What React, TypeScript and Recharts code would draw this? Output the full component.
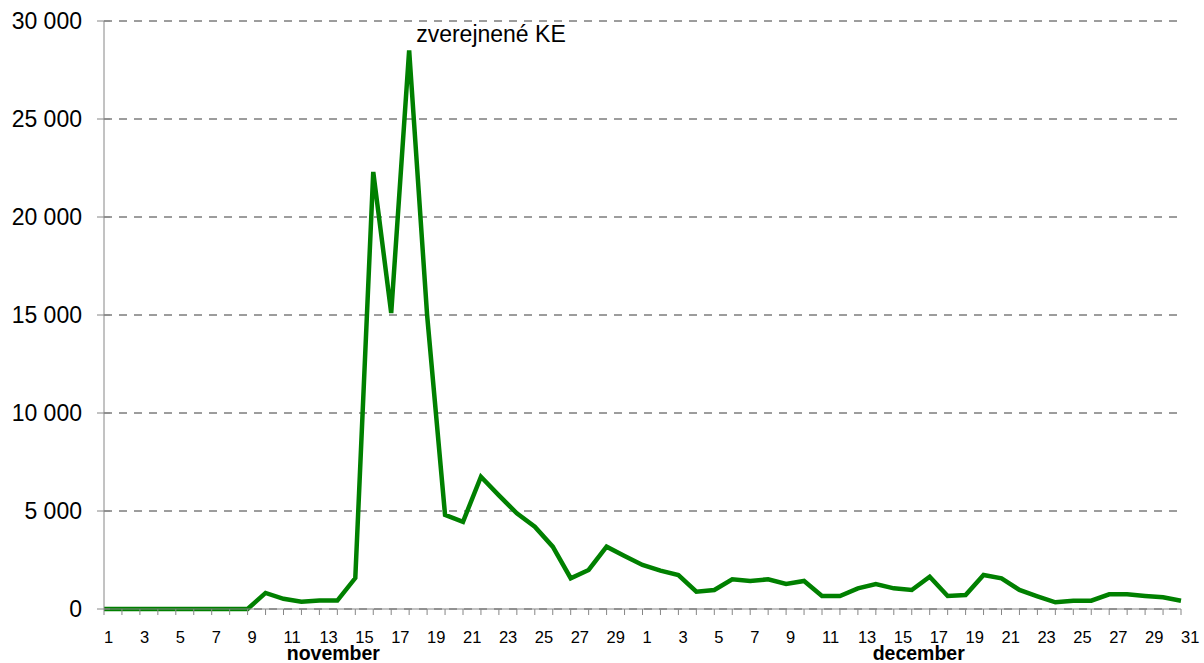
import { LineChart, Line, XAxis, YAxis, CartesianGrid, ReferenceDot } from "recharts";

const novDays = Array.from({ length: 30 }, (_, i) => i + 1);
const decDays = Array.from({ length: 31 }, (_, i) => i + 1);

// daily counts
const novValues = [
  0, 0, 0, 0, 0, 0, 0, 0, 0, 820, 520, 370, 430, 430, 1580, 22300, 15100, 28500, 15000, 4800,
  4450, 6750, 5800, 4880, 4200, 3180, 1570, 1990, 3180, 2700,
];
const decValues = [
  2245, 1955, 1735, 885, 970, 1515, 1430, 1515, 1275, 1430, 663, 663, 1054, 1275, 1054, 970,
  1650, 663, 714, 1735, 1565, 970, 650, 340, 425, 425, 748, 748, 663, 595, 425,
];

const yTicks = [0, 5000, 10000, 15000, 20000, 25000, 30000];
const annotation = "zverejnené KE";
const monthLabels: Record<string, string> = { "n-14": "november", "d-16": "december" };
const monthShift: Record<string, number> = { "n-14": -4, "d-16": 7 };

const data = [
  ...novDays.map((d, i) => ({ key: `n-${d}`, day: d, value: novValues[i] })),
  ...decDays.map((d, i) => ({ key: `d-${d}`, day: d, value: decValues[i] })),
];
const peak = data.reduce((a, b) => (b.value > a.value ? b : a));

const font = "'Liberation Sans', Arial, sans-serif";
const axisGray = "#868686";

const fmt = (v: number) => String(v).replace(/\B(?=(\d{3})+(?!\d))/g, " ");

function DayTick(props: any) {
  const { x, y, payload } = props;
  const key = String(payload.value);
  const day = Number(key.split("-")[1]);
  return (
    <g>
      <line x1={x} x2={x} y1={y} y2={y + 6} stroke={axisGray} strokeWidth={1} />
      {day % 2 === 1 && (
        <text x={x} y={y + 34} textAnchor="start" fontSize={16.5} fill="#000" fontFamily={font}>
          {day}
        </text>
      )}
      {monthLabels[key] && (
        <text
          x={x + monthShift[key]}
          y={y + 51}
          textAnchor="middle"
          fontSize={19.5}
          fontWeight="bold"
          fill="#000"
          fontFamily={font}
        >
          {monthLabels[key]}
        </text>
      )}
    </g>
  );
}

function ValueTick(props: any) {
  const { x, y, payload } = props;
  return (
    <g>
      <line x1={x - 7} x2={x + 6} y1={y} y2={y} stroke={axisGray} strokeWidth={1} />
      <text x={x - 22} y={y + 8} textAnchor="end" fontSize={23} fill="#000" fontFamily={font}>
        {fmt(payload.value)}
      </text>
    </g>
  );
}

export default function App() {
  return (
    <div style={{ position: "absolute", left: 0, top: 0, background: "#fff" }}>
      <LineChart width={1204} height={663} data={data} margin={{ top: 21, right: 23, bottom: 0, left: 0 }}>
        <CartesianGrid vertical={false} stroke="#3a3a3a" strokeDasharray="8 7" />
        <XAxis
          dataKey="key"
          interval={0}
          height={54}
          tickLine={false}
          tickSize={0}
          tickMargin={0}
          stroke={axisGray}
          tick={(p: any) => <DayTick {...p} />}
        />
        <YAxis
          domain={[0, 30000]}
          ticks={yTicks}
          width={104}
          tickLine={false}
          tickSize={0}
          tickMargin={0}
          stroke={axisGray}
          tick={(p: any) => <ValueTick {...p} />}
        />
        <Line
          type="linear"
          dataKey="value"
          stroke="#008000"
          strokeWidth={4.5}
          dot={false}
          activeDot={false}
          isAnimationActive={false}
        />
        <ReferenceDot
          x={peak.key}
          y={peak.value}
          r={0}
          fill="none"
          stroke="none"
          ifOverflow="visible"
          label={{
            content: (p: any) => (
              <text
                x={p.viewBox.x + 7}
                y={p.viewBox.y - 8}
                fontSize={23}
                fill="#000"
                fontFamily={font}
                textAnchor="start"
              >
                {annotation}
              </text>
            ),
          }}
        />
      </LineChart>
    </div>
  );
}
